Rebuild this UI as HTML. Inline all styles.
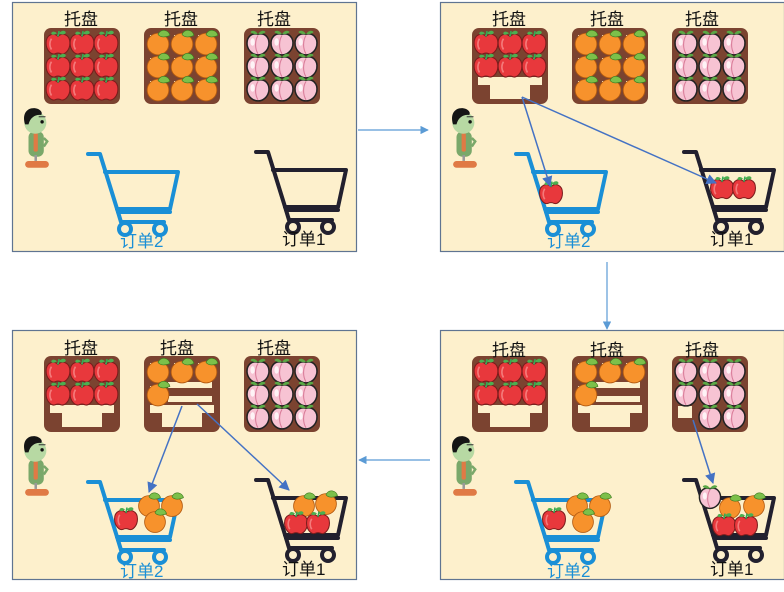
<!DOCTYPE html>
<html><head><meta charset="utf-8">
<style>
html,body{margin:0;padding:0;background:#fff;}
svg{display:block;}
text{font-family:"Liberation Sans","Noto Sans CJK SC",sans-serif;font-size:17px;}
</style></head>
<body>
<svg id="s" width="784" height="592" viewBox="0 0 784 592" xmlns="http://www.w3.org/2000/svg">
<defs>
<symbol id="apple" viewBox="-12 -12 24 24" overflow="visible">
<path d="M0,-6 C-4,-10 -11,-8 -11,0 C-11,7 -6,11 -3,10 C-1,9 1,9 3,10 C6,11 11,7 11,0 C11,-8 4,-10 0,-6Z" fill="#e8383c" stroke="#7a1c1c" stroke-width="1"/>
<path d="M-6,-4 C-8,-1 -8,3 -6,6" stroke="#f47a7a" stroke-width="1.5" fill="none"/>
<path d="M0,-6 L1,-11" stroke="#3a5" stroke-width="1.5"/>
<path d="M1,-9 C4,-13 8,-11 7,-9 C5,-7 2,-8 1,-9Z" fill="#4caf50"/>
<path d="M-1,-9 C-4,-12 -7,-10 -6,-8 C-4,-7 -2,-8 -1,-9Z" fill="#4caf50"/>
</symbol>
<symbol id="orange" viewBox="-12 -12 24 24" overflow="visible">
<circle cx="0" cy="1" r="10" fill="#f7922c" stroke="#b35a10" stroke-width="0.8"/>
<path d="M0,-8 C3,-14 10,-12 11,-7 C7,-5 2,-5 0,-8Z" fill="#7cc04a" stroke="#3d7a20" stroke-width="0.6"/>
</symbol>
<symbol id="peach" viewBox="-12 -12 24 24" overflow="visible">
<path d="M0,-8 C-6,-10 -11,-5 -10,2 C-9,8 -4,11 0,11 C4,11 9,8 10,2 C11,-5 6,-10 0,-8Z" fill="#f7c3d3" stroke="#222" stroke-width="1.4"/>
<path d="M0,-7 C-3,-2 -3,5 0,10" stroke="#d97d9a" stroke-width="1" fill="none"/>
<ellipse cx="-5" cy="-1" rx="2" ry="3.5" fill="#fff" opacity=".8"/>
<path d="M0,-8 C-2,-12 -6,-12 -7,-10 C-5,-8 -2,-8 0,-8Z" fill="#5aa845"/>
<path d="M0,-8 C2,-12 6,-12 7,-10 C5,-8 2,-8 0,-8Z" fill="#5aa845"/>
</symbol>
<symbol id="person" viewBox="0 0 40 72" overflow="visible">
<rect x="10" y="28" width="18" height="30" rx="7" fill="#7aa86a"/>
<rect x="16" y="30" width="5" height="22" rx="2" fill="#e07a45"/>
<circle cx="18" cy="18" r="13" fill="#b7d9a3"/>
<path d="M6,20 C2,8 8,0 18,1 C24,2 27,6 25,9 C18,8 12,12 10,20Z" fill="#151515"/>
<circle cx="26" cy="17" r="2" fill="#111"/>
<path d="M22,11 L30,11" stroke="#333" stroke-width="1.2"/>
<rect x="17" y="56" width="3" height="7" fill="#999"/>
<rect x="6" y="63" width="28" height="8" rx="4" fill="#e07a45"/>
<path d="M28,36 L32,40 L28,46" stroke="#7aa86a" stroke-width="3" fill="none"/>
</symbol>
<marker id="ah" viewBox="0 0 10 10" refX="9" refY="5" markerWidth="7" markerHeight="7" orient="auto">
<path d="M0,0 L10,5 L0,10Z" fill="#4472c4"/>
</marker>
<marker id="ah2" viewBox="0 0 10 10" refX="9" refY="5" markerWidth="7" markerHeight="7" orient="auto">
<path d="M0,0 L10,5 L0,10Z" fill="#5b9bd5"/>
</marker>
</defs>

<g id="panels"></g>

<g fill="#111">
<text x="64" y="25">托盘</text><text x="164" y="25">托盘</text><text x="257" y="25">托盘</text>
<text x="492" y="25">托盘</text><text x="590" y="25">托盘</text><text x="685" y="25">托盘</text>
<text x="64" y="354">托盘</text><text x="160" y="354">托盘</text><text x="257" y="354">托盘</text>
<text x="492" y="356">托盘</text><text x="590" y="356">托盘</text><text x="685" y="356">托盘</text>
<text x="282" y="245">订单1</text><text x="710" y="245">订单1</text>
<text x="282" y="575">订单1</text><text x="710" y="575">订单1</text>
</g>
<g fill="#1a8fd6">
<text x="120" y="247">订单2</text><text x="547" y="247">订单2</text>
<text x="120" y="577">订单2</text><text x="547" y="577">订单2</text>
</g>

<g stroke="#5b9bd5" stroke-width="1.2" fill="none">
<line x1="358" y1="130" x2="428" y2="130" marker-end="url(#ah2)"/>
<line x1="607" y1="262" x2="607" y2="329" marker-end="url(#ah2)"/>
<line x1="430" y1="460" x2="359" y2="460" marker-end="url(#ah2)"/>
</g>
<g id="arrows" stroke="#4472c4" stroke-width="1.5" fill="none">
<line x1="522" y1="97" x2="550" y2="186" marker-end="url(#ah)"/>
<line x1="522" y1="97" x2="716" y2="183" marker-end="url(#ah)"/>
<line x1="182" y1="406" x2="149" y2="492" marker-end="url(#ah)"/>
<line x1="197" y1="404" x2="289" y2="490" marker-end="url(#ah)"/>
<line x1="693" y1="420" x2="713" y2="483" marker-end="url(#ah)"/>
</g>
</svg>
<script>
(function(){
var NS="http://www.w3.org/2000/svg";
var P=document.getElementById('panels');
function el(t,a,p){var e=document.createElementNS(NS,t);for(var k in a)e.setAttribute(k,a[k]);(p||P).appendChild(e);return e;}
function use(id,x,y,s,p){s=s||24;el('use',{href:'#'+id,x:x-s/2,y:y-s/2,width:s,height:s},p);}
var CREAM="#fdf0cc";
function tray(g,x,y,kind,mask){
  el('rect',{x:x,y:y,width:76,height:76,rx:7,fill:'#7b4330'},g);
  var cx=[x+14,x+38,x+62],cy=[y+15,y+38,y+61];
  for(var r=0;r<3;r++)for(var c=0;c<3;c++){
    if(mask[r][c]) el('rect',{x:cx[c]-8,y:cy[r]-8,width:16,height:16,fill:CREAM},g);
  }
  if(kind=='appleE'){el('path',{d:'M'+(x+6)+','+(y+49)+' h64 v8 h-12 v14 h-40 v-14 h-12z',fill:CREAM},g);}
  if(kind=='orangeE'){
    el('rect',{x:x+24,y:y+26,width:44,height:6,fill:CREAM},g);
    el('rect',{x:x+24,y:y+40,width:44,height:6,fill:CREAM},g);
    el('path',{d:'M'+(x+6)+','+(y+49)+' h64 v8 h-12 v14 h-40 v-14 h-12z',fill:CREAM},g);
  }
  if(kind=='peachE'){el('path',{d:'M'+(x+6)+','+(y+50)+' h14 v12 h-14z',fill:CREAM},g);}
  var f=kind.replace('E','');
  for(r=0;r<3;r++)for(c=0;c<3;c++) if(mask[r][c]) use(f,cx[c],cy[r],26,g);
}
function cart(g,x,y,col){
  var a={stroke:col,'stroke-width':4,fill:'none','stroke-linejoin':'round','stroke-linecap':'round'};
  el('path',Object.assign({d:'M'+x+','+y+' h12 L'+(x+30)+','+(y+58)+' h52'},a),g);
  el('path',Object.assign({d:'M'+(x+17)+','+(y+18)+' H'+(x+90)+' L'+(x+82)+','+(y+55)+' H'+(x+29)},a),g);
  el('path',Object.assign({d:'M'+(x+30)+','+(y+58)+' L'+(x+33)+','+(y+68)+' H'+(x+76)},a),g);
  el('circle',Object.assign({cx:x+37,cy:y+75,r:6},a),g);
  el('circle',Object.assign({cx:x+72,cy:y+75,r:6},a),g);
}
var F=[[1,1,1],[1,1,1],[1,1,1]], T2=[[1,1,1],[1,1,1],[0,0,0]];
var O1=[[1,1,1],[1,0,0],[0,0,0]], PK=[[1,1,1],[1,1,1],[0,1,1]];
var panels=[
 {x:12,y:2,t:[['apple',F],['orange',F],['peach',F]],c:[[],[]]},
 {x:440,y:2,t:[['appleE',T2],['orange',F],['peach',F]],c:[[['apple',111,41]],[['apple',282,36],['apple',304,36]]]},
 {x:440,y:330,t:[['appleE',T2],['orangeE',O1],['peachE',PK]],
   c:[[['orange',137,25],['orange',160,25],['apple',114,39],['orange',143,41]],
      [['peach',270,17],['orange',290,27],['orange',314,25],['apple',284,45],['apple',306,45]]]},
 {x:12,y:330,t:[['appleE',T2],['orangeE',O1],['peach',F]],
   c:[[['orange',137,25],['orange',160,25],['apple',114,39],['orange',143,41]],
      [['orange',292,25],['orange',314,23],['apple',284,43],['apple',306,43]]]}
];
panels.forEach(function(pn){
  var g=el('g',{transform:'translate('+pn.x+','+pn.y+')'});
  el('rect',{x:0.5,y:0.5,width:344,height:249,fill:CREAM,stroke:'#5f7491','stroke-width':1.2},g);
  var tx=[32,132,232];
  pn.t.forEach(function(t,i){tray(g,tx[i],26,t[0],t[1]);});
  el('use',{href:'#person',x:8,y:100,width:34,height:72},g);
  cart(g,76,152,'#1a8fd6');
  cart(g,244,150,'#22202e');
  pn.c[0].forEach(function(f){use(f[0],f[1],f[2]+150,25,g);});
  pn.c[1].forEach(function(f){use(f[0],f[1],f[2]+150,25,g);});
});
var A=document.getElementById('arrows');A.parentNode.appendChild(A);
})();
</script>
</body></html>
